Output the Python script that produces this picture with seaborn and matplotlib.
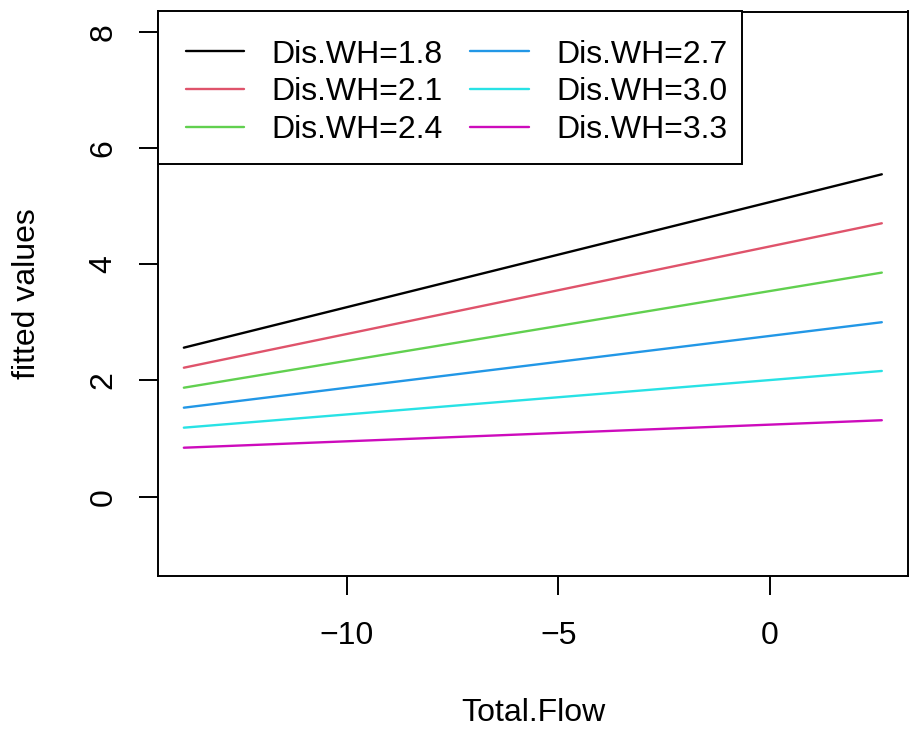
import matplotlib
matplotlib.use("Agg")
import matplotlib.pyplot as plt
from matplotlib.patches import Rectangle
import seaborn as sns
import pandas as pd

# ---- data ----
flow_range = [-13.85, 2.65]           # Total.Flow at the two ends of each fitted line
dis_wh = ["1.8", "2.1", "2.4", "2.7", "3.0", "3.3"]
fit_start = [2.565, 2.220, 1.876, 1.532, 1.188, 0.843]
fit_end = [5.549, 4.706, 3.857, 3.003, 2.164, 1.316]
colors = ["#000000", "#DF536B", "#61D04F", "#2297E6", "#28E2E5", "#CD0BBC"]
x_ticks = [-10, -5, 0]
y_ticks = [0, 2, 4, 6, 8]

sns.set_style("white")
plt.rcParams["font.family"] = ["Liberation Sans", "DejaVu Sans"]
plt.rcParams["text.color"] = "black"
FS = 23

W, H = 909, 730
fig = plt.figure(figsize=(W / 100, H / 100), dpi=100)
L, R, T, B = 157.5, 908.5, 11.5, 576.0
ax = fig.add_axes([L / W, (H - B) / H, (R - L) / W, (B - T) / H])

for lab, y0, y1, c in zip(dis_wh, fit_start, fit_end, colors):
    df = pd.DataFrame({"Total.Flow": flow_range, "fitted values": [y0, y1]})
    sns.lineplot(data=df, x="Total.Flow", y="fitted values", color=c,
                 label=f"Dis.WH={lab}", linewidth=1.7, ax=ax)

ax.set_xlim(-14.473, 3.281)
ax.set_ylim(-1.365, 8.351)
ax.set_xticks(x_ticks)
ax.set_xticklabels([str(v).replace("-", "\u2212") for v in x_ticks])
ax.set_yticks(y_ticks)
ax.set_yticklabels([str(v) for v in y_ticks])

for s in ax.spines.values():
    s.set_visible(True)
    s.set_color("black")
    s.set_linewidth(1.4)

ax.tick_params(axis="both", which="major", direction="out", length=13.7,
               width=1.4, color="black", labelsize=FS, labelcolor="black",
               bottom=True, left=True)
ax.tick_params(axis="x", pad=18.9)
ax.tick_params(axis="y", pad=14.2, labelrotation=90)
for t in ax.get_yticklabels():
    t.set_va("center")

ax.set_xlabel("Total.Flow", fontsize=FS, color="black")
ax.set_ylabel("fitted values", fontsize=FS, color="black")
ax.xaxis.set_label_coords(0.5, (B - 697.9) / (B - T))
ax.yaxis.set_label_coords((41.8 - L) / (R - L), 0.5)

# legend frame (R style, drawn as a rectangle) and legend content
ax.add_patch(Rectangle((0, (B - 163.5) / (B - T)), (742 - L) / (R - L),
                       1 - (B - 163.5) / (B - T), transform=ax.transAxes,
                       facecolor="white", edgecolor="black", linewidth=1.4,
                       zorder=5, clip_on=False))
leg = ax.legend(ncol=2, loc="upper left",
                bbox_to_anchor=((185.7 - L) / (R - L), (B - 39.6) / (B - T)),
                frameon=False, borderpad=0, borderaxespad=0, fontsize=FS,
                handlelength=1.83, handletextpad=0.866, columnspacing=0.85,
                labelspacing=0.24, labelcolor="black")
leg.set_zorder(6)

fig.savefig("out.png", dpi=100)
